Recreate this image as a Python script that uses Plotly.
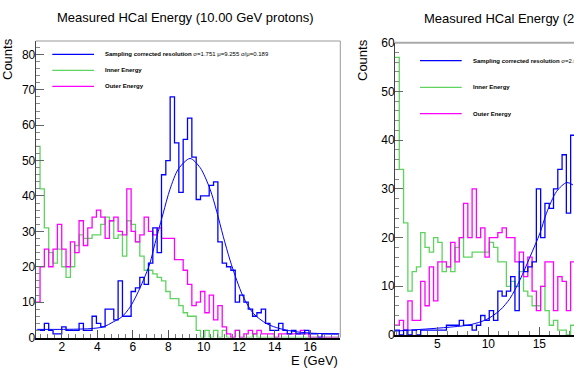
import numpy as np
import plotly.graph_objects as go

W, H = 574, 376
FONT = "Liberation Sans, Arial, sans-serif"

BLUE = "#0000ff"
GREEN = "#5fd35f"
MAGENTA = "#ff00ff"

# ---- left pad: 10 GeV protons (70 bins) ----
left_lo, left_w = 0.53, 0.2445
left_sampling = [2, 2, 4, 2, 1, 1, 3, 2, 2, 2,
                 4, 2, 2, 6, 4, 3, 8, 8, 5, 16,
                 6, 6, 13, 14, 17, 15, 21, 31, 24, 46,
                 50, 68, 55, 41, 56, 62, 51, 39, 40, 40,
                 43, 44, 27, 21, 20, 19, 10, 12, 10, 8,
                 6, 7, 8, 4, 2, 2, 4, 2, 1, 2,
                 1, 1, 2, 1, 1, 0, 1, 1, 1, 1]
left_inner = [54, 42, 31, 24, 21, 25, 20, 17, 20, 26,
              29, 28, 28, 29, 29, 32, 34, 33, 28, 29,
              23, 33, 32, 27, 23, 19, 19, 18, 17, 16,
              13, 11, 11, 9, 7, 6, 6, 2, 0, 2,
              0, 2, 0, 2, 0, 0, 2, 0, 0, 0,
              1, 0, 0, 0, 0, 0, 0, 0, 0, 0,
              0, 0, 0, 0, 0, 0, 0, 0, 0, 0]
left_outer = [10, 20, 25, 20, 25, 32, 25, 20, 27, 24,
              33, 26, 31, 34, 36, 34, 28, 33, 34, 30,
              29, 42, 30, 27, 29, 34, 30, 29, 31, 28,
              28, 28, 22, 22, 19, 15, 9, 10, 13, 7,
              12, 5, 9, 3, 1, 0, 2, 0, 1, 2,
              1, 2, 1, 1, 1, 0, 1, 1, 1, 1,
              1, 2, 1, 0, 0, 0, 0, 0, 0, 0]
left_fit_e = [0.62, 2.09, 3.59, 4.34, 4.9, 5.38, 5.85, 6.22, 6.6, 6.97, 7.25, 7.44,
              7.72, 8.1, 8.57, 9.23, 9.8, 10.36, 10.73, 11.1, 11.48, 11.86, 12.23,
              12.8, 13.55, 14.3, 15.24, 16.18, 17.6]
left_fit_n = [2.3, 2.3, 2.5, 3.0, 4.4, 5.8, 8.6, 12.0, 16.2, 21.0, 26.5, 30.0,
              35.2, 41.9, 47.6, 50.6, 48.0, 41.9, 35.7, 28.6, 21.9, 16.2, 11.5,
              6.8, 3.9, 2.5, 1.6, 1.2, 1.0]

# ---- right pad: 20 GeV protons (only the visible part) ----
right_lo, right_w = 0.85, 0.42
right_sampling = [1, 0, 1, 0, 1, 0, 1, 1, 1, 1,
                  1, 1, 2, 2, 2, 3, 2, 2, 1, 2,
                  4, 3, 5, 3, 9, 8, 9, 12, 5, 15,
                  13, 14, 15, 30, 20, 27, 26, 30, 34, 37,
                  25, 41, 41, 40]
right_inner = [57, 34, 23, 9, 13, 14, 21, 18, 17, 20,
               19, 13, 14, 13, 18, 20, 16, 16, 17, 17,
               17, 17, 19, 18, 15, 15, 10, 11, 10, 13,
               9, 8, 6, 6, 10, 5, 2, 3, 1, 1,
               0, 2, 1, 0]
right_outer = [2, 3, 1, 7, 3, 3, 11, 6, 14, 7,
               15, 15, 14, 19, 15, 20, 27, 20, 30, 20,
               22, 16, 20, 20, 21, 22, 20, 20, 15, 17,
               12, 16, 9, 5, 10, 15, 15, 5, 12, 11,
               5, 15, 10, 14]
right_fit_e = [0.85, 5.6, 8.2, 9.84, 11.15, 12.12, 13.1, 14.1, 15.06, 15.7, 16.7, 17.68, 18.3]
right_fit_n = [0.8, 1.5, 2.1, 3.2, 5.1, 7.5, 11.3, 16.1, 20.9, 25.0, 29.5, 31.3, 30.8]


def step(lo, w, vals):
    edges = lo + w * np.arange(len(vals) + 1)
    return edges, list(vals) + [vals[-1]]


def px(x):
    return x / W


def py(y):
    return 1 - y / H


fig = go.Figure()

for xa, ya, lo, w, series, fe, fn in [
    ("x", "y", left_lo, left_w, [(left_inner, GREEN), (left_outer, MAGENTA), (left_sampling, BLUE)],
     left_fit_e, left_fit_n),
    ("x2", "y2", right_lo, right_w, [(right_inner, GREEN), (right_outer, MAGENTA), (right_sampling, BLUE)],
     right_fit_e, right_fit_n),
]:
    for vals, col in series:
        ex, ey = step(lo, w, vals)
        fig.add_trace(go.Scatter(x=ex, y=ey, mode="lines", line=dict(color=col, width=1.3, shape="hv"),
                                 xaxis=xa, yaxis=ya, showlegend=False, hoverinfo="skip"))
    fig.add_trace(go.Scatter(x=fe, y=fn, mode="lines", line=dict(color=BLUE, width=1, shape="spline", smoothing=0.8),
                             xaxis=xa, yaxis=ya, showlegend=False, hoverinfo="skip"))

tickfont = dict(family=FONT, size=12, color="black")


def xax(domain, rng, dtick, minor, anchor):
    return dict(domain=domain, range=rng, anchor=anchor, showgrid=False, zeroline=False,
                showline=True, linecolor="black", linewidth=2, mirror=False, automargin=False,
                ticks="inside", ticklen=8, tickcolor="#555", tickwidth=1, dtick=dtick, tick0=0,
                minor=dict(ticks="inside", ticklen=4, tickcolor="#777", dtick=minor, tick0=0),
                tickfont=tickfont, ticklabelstandoff=-3, fixedrange=True)


def yax(domain, rng, anchor):
    return dict(domain=domain, range=rng, anchor=anchor, showgrid=False, zeroline=False,
                showline=True, linecolor="#444", linewidth=1, mirror=False, automargin=False,
                ticks="inside", ticklen=8, tickcolor="#666", tickwidth=1, dtick=10, tick0=0,
                minor=dict(ticks="inside", ticklen=4, tickcolor="#888", dtick=2, tick0=0),
                tickfont=tickfont, ticklabelstandoff=-3, fixedrange=True)


fig.update_layout(
    width=W, height=H, margin=dict(l=0, r=0, t=0, b=0, pad=0, autoexpand=False),
    paper_bgcolor="white", plot_bgcolor="white", showlegend=False,
    xaxis=xax([px(35.7), px(340.3)], [0.53, 17.7], 2, 0.4, "y"),
    yaxis=yax([py(337.5), py(41)], [0, 83.8], "x"),
    xaxis2=xax([px(395), 1.0], [0.85, 0.85 + (W - 395) / 10.2], 5, 1, "y2"),
    yaxis2=yax([py(335), py(42.7)], [0, 60], "x2"),
)

# frame lines (top/right) in ROOT grey
fig.add_shape(type="line", xref="x domain", yref="y domain", x0=0, x1=1, y0=1, y1=1,
              line=dict(color="#999", width=1))
fig.add_shape(type="line", xref="x domain", yref="y domain", x0=1, x1=1, y0=0, y1=1,
              line=dict(color="#999", width=1))
fig.add_shape(type="line", xref="x2 domain", yref="y2 domain", x0=0, x1=1, y0=1, y1=1,
              line=dict(color="#aaa", width=2))

ann = []
ann.append(dict(text="Measured HCal Energy (10.00 GeV protons)", x=px(185), y=py(18),
                xanchor="center", yanchor="middle", font=dict(family=FONT, size=13, color="black")))
ann.append(dict(text="Measured HCal Energy (20.00 GeV protons)", x=px(421.7), y=py(19),
                xanchor="left", yanchor="middle", font=dict(family=FONT, size=13, color="black")))
ann.append(dict(text="Counts", x=px(7), y=py(59), textangle=-90, xanchor="center", yanchor="middle",
                font=dict(family=FONT, size=13, color="black")))
ann.append(dict(text="Counts", x=px(363), y=py(60), textangle=-90, xanchor="center", yanchor="middle",
                font=dict(family=FONT, size=13, color="black")))
ann.append(dict(text="E (GeV)", x=px(340), y=py(360), xanchor="right", yanchor="middle",
                font=dict(family=FONT, size=13, color="black")))

legends = [
    (52.3, 94, 103, [54.3, 70.3, 86.3], "σ=1.751 μ=9.255 σ/μ=0.189"),
    (420, 461.7, 471, [60.7, 87.3, 113.7], "σ=2.617"),
]
for x0, x1, xt, ys, stats in legends:
    labels = [f"<b>Sampling corrected resolution</b> {stats}", "<b>Inner Energy</b>", "<b>Outer Energy</b>"]
    for yy, col, lab in zip(ys, [BLUE, GREEN, MAGENTA], labels):
        fig.add_shape(type="line", xref="paper", yref="paper", x0=px(x0), x1=px(x1), y0=py(yy), y1=py(yy),
                      line=dict(color=col, width=1.3))
        ann.append(dict(text=lab, x=px(xt), y=py(yy), xanchor="left", yanchor="middle",
                        font=dict(family=FONT, size=6, color="black")))

for a in ann:
    a.update(xref="paper", yref="paper", showarrow=False)
fig.update_layout(annotations=ann)

# the page's default 8px body margin would shift the whole figure
fig.write_html("out.html", config={"displayModeBar": False},
               post_script="document.body.style.margin='0px';")
